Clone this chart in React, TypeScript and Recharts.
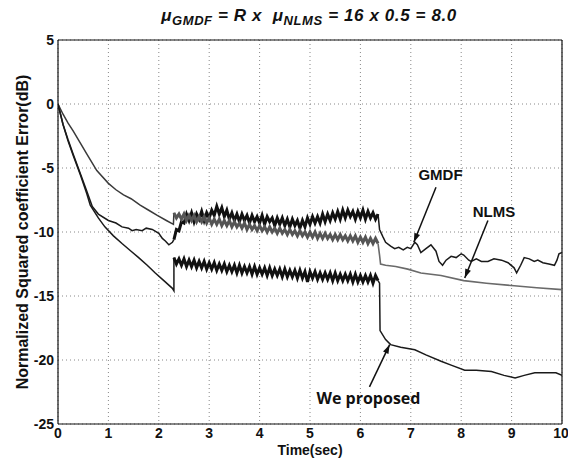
import React from "react";
import {CartesianGrid, Label, Line, LineChart, ReferenceDot, ReferenceLine, XAxis, YAxis} from "recharts";

// early convergence part, [time, dB]
const NLMS_START = [[0, 0], [0.1, -0.8], [0.2, -1.5], [0.3, -2.1], [0.45, -3.1], [0.57, -3.9], [0.77, -5.2], [1.0, -6.2], [1.15, -6.7], [1.3, -7.1], [1.45, -7.4], [1.63, -7.9], [1.8, -8.3], [1.97, -8.7], [2.15, -9.1], [2.29, -9.4]];
const GMDF_START = [[0, 0], [0.05, -0.8], [0.1, -1.6], [0.2, -2.8], [0.3, -3.9], [0.45, -5.5], [0.57, -6.8], [0.68, -8.0], [0.8, -8.6], [1.0, -9.1], [1.15, -9.3], [1.27, -9.6], [1.4, -9.7], [1.47, -9.9], [1.55, -9.8], [1.67, -9.9], [1.75, -9.7], [1.87, -9.8], [2.0, -10.1], [2.07, -10.5], [2.13, -10.7], [2.2, -11.0], [2.27, -10.8]];
const PROPOSED_START = [[0, 0], [0.05, -0.8], [0.1, -1.6], [0.2, -2.9], [0.3, -4.0], [0.45, -5.6], [0.57, -7.0], [0.64, -7.9], [0.8, -8.9], [0.93, -9.6], [1.1, -10.3], [1.27, -10.9], [1.45, -11.5], [1.6, -12.0], [1.77, -12.6], [1.93, -13.2], [2.1, -13.8], [2.27, -14.4], [2.3, -14.6]];

// noisy segment after the echo path change (2.3 s .. 6.35 s)
const BAND_TIME = [2.3, 2.35, 2.4, 2.45, 2.5, 2.55, 2.6, 2.65, 2.7, 2.75, 2.8, 2.85, 2.9, 2.95, 3, 3.05, 3.1, 3.15, 3.2, 3.25, 3.3, 3.35, 3.4, 3.45, 3.5, 3.55, 3.6, 3.65, 3.7, 3.75, 3.8, 3.85, 3.9, 3.95, 4, 4.05, 4.1, 4.15, 4.2, 4.25, 4.3, 4.35, 4.4, 4.45, 4.5, 4.55, 4.6, 4.65, 4.7, 4.75, 4.8, 4.85, 4.9, 4.95, 5, 5.05, 5.1, 5.15, 5.2, 5.25, 5.3, 5.35, 5.4, 5.45, 5.5, 5.55, 5.6, 5.65, 5.7, 5.75, 5.8, 5.85, 5.9, 5.95, 6, 6.05, 6.1, 6.15, 6.2, 6.25, 6.3, 6.35];
const GMDF_BAND = [-10.6, -9.8, -9.9, -9.2, -9.3, -8.6, -9.1, -8.5, -9.2, -8.6, -9.0, -8.4, -9.1, -8.5, -8.9, -8.3, -8.7, -8.0, -8.6, -8.1, -8.8, -8.3, -9.0, -8.5, -9.1, -8.6, -9.2, -8.6, -9.1, -8.7, -9.3, -8.7, -9.2, -8.8, -9.3, -8.7, -9.4, -8.8, -9.2, -8.9, -9.5, -8.9, -9.4, -8.9, -9.5, -9.0, -9.6, -9.0, -9.5, -9.1, -9.7, -9.1, -9.6, -8.9, -9.4, -8.8, -9.3, -8.8, -9.3, -8.6, -9.2, -8.6, -9.1, -8.5, -9.0, -8.4, -9.0, -8.3, -8.9, -8.3, -8.8, -8.4, -9.0, -8.4, -8.9, -8.3, -9.0, -8.4, -8.9, -8.5, -9.0, -8.6];
const NLMS_BAND = [-8.5, -8.9, -8.6, -9.0, -8.6, -9.1, -8.7, -9.1, -8.7, -9.2, -8.8, -9.2, -8.8, -9.3, -8.9, -9.4, -9.0, -9.4, -9.0, -9.5, -9.1, -9.5, -9.1, -9.6, -9.2, -9.6, -9.3, -9.7, -9.3, -9.8, -9.4, -9.8, -9.5, -9.9, -9.5, -9.9, -9.6, -10.0, -9.6, -10.0, -9.7, -10.1, -9.7, -10.1, -9.8, -10.2, -9.8, -10.2, -9.9, -10.3, -9.9, -10.3, -10.0, -10.4, -10.0, -10.4, -10.0, -10.5, -10.1, -10.5, -10.1, -10.5, -10.2, -10.6, -10.2, -10.6, -10.2, -10.6, -10.3, -10.7, -10.3, -10.7, -10.3, -10.8, -10.4, -10.8, -10.4, -10.9, -10.5, -10.9, -10.5, -10.9];
const PROPOSED_BAND = [-12.0, -12.5, -12.1, -12.6, -12.1, -12.7, -12.2, -12.7, -12.2, -12.8, -12.3, -12.8, -12.3, -12.9, -12.4, -12.9, -12.4, -13.0, -12.5, -13.0, -12.5, -13.1, -12.6, -13.1, -12.6, -13.2, -12.6, -13.2, -12.7, -13.2, -12.7, -13.3, -12.7, -13.3, -12.8, -13.3, -12.8, -13.4, -12.8, -13.4, -12.9, -13.4, -12.9, -13.5, -12.9, -13.5, -13.0, -13.5, -13.0, -13.6, -13.0, -13.6, -13.1, -13.9, -13.1, -13.6, -13.1, -13.7, -13.2, -13.7, -13.2, -13.7, -13.2, -13.8, -13.2, -13.8, -13.3, -13.8, -13.3, -13.8, -13.3, -13.9, -13.3, -13.9, -13.4, -13.9, -13.4, -13.9, -13.4, -14.0, -13.4, -13.8];

// after the double-talk ends
const GMDF_END = [[6.38, -9.8], [6.45, -10.4], [6.5, -10.8], [6.6, -11.1], [6.68, -11.3], [6.76, -11.2], [6.85, -11.4], [6.93, -11.2], [7.0, -11.3], [7.08, -10.8], [7.13, -11.0], [7.2, -11.6], [7.3, -11.3], [7.4, -11.0], [7.5, -11.5], [7.56, -12.3], [7.63, -12.6], [7.7, -12.2], [7.8, -11.9], [7.9, -12.0], [8.0, -11.7], [8.05, -11.8], [8.15, -12.2], [8.2, -12.3], [8.3, -12.1], [8.4, -12.3], [8.53, -12.3], [8.65, -12.1], [8.8, -12.2], [8.93, -12.4], [9.05, -12.8], [9.1, -13.2], [9.18, -12.6], [9.25, -12.0], [9.35, -12.1], [9.45, -12.3], [9.52, -12.2], [9.62, -12.4], [9.74, -12.5], [9.85, -12.6], [9.9, -12.2], [9.94, -11.7], [10, -11.6]];
const NLMS_END = [[6.38, -11.8], [6.4, -12.5], [6.5, -12.6], [6.7, -12.7], [6.94, -12.9], [7.2, -13.2], [7.6, -13.4], [8.05, -13.8], [8.5, -14.0], [9.05, -14.2], [9.5, -14.35], [10, -14.5]];
const PROPOSED_END = [[6.38, -14.0], [6.39, -17.7], [6.5, -18.4], [6.6, -18.8], [6.8, -19.0], [7.08, -19.2], [7.3, -19.6], [7.6, -20.1], [7.8, -20.4], [8.07, -20.8], [8.3, -20.8], [8.6, -20.9], [8.85, -21.2], [9.07, -21.4], [9.25, -21.2], [9.46, -21.0], [9.7, -21.0], [9.88, -21.0], [10, -21.2]];

const X_TICKS = [0, 1, 2, 3, 4, 5, 6, 7, 8, 9, 10];
const Y_TICKS = [-25, -20, -15, -10, -5, 0, 5];

const pts = (list: number[][]) => list.map(([t, v]) => ({t, v}));

// split every curve into: smooth start, noisy band, smooth end (sharing the joint points)
const build = (start: number[][], band: number[], end: number[][]) => {
    const b = band.map((v, i) => ({t: BAND_TIME[i], v}));
    return {
        start: [...pts(start), b[0]],
        band: b,
        end: [b[b.length - 1], ...pts(end)],
    };
};

const gmdf = build(GMDF_START, GMDF_BAND, GMDF_END);
const nlms = build(NLMS_START, NLMS_BAND, NLMS_END);
const proposed = build(PROPOSED_START, PROPOSED_BAND, PROPOSED_END);

const FONT = "'Liberation Sans', Arial, sans-serif";
const tickStyle = {fontFamily: FONT, fontWeight: 700, fontSize: 14, fill: "#111"};

const Arrow = (props: any) => {
    const {x1, y1, x2, y2} = props;
    const a = Math.atan2(y2 - y1, x2 - x1);
    const L = 9, W = 3;
    const bx = x2 - L * Math.cos(a), by = y2 - L * Math.sin(a);
    const px = -Math.sin(a) * W, py = Math.cos(a) * W;
    return (
        <g>
            <line x1={x1} y1={y1} x2={x2} y2={y2} stroke="#111" strokeWidth={1.5}/>
            <polygon points={`${x2},${y2} ${bx + px},${by + py} ${bx - px},${by - py}`} fill="#111"/>
        </g>
    );
};

const note = (text: string, size: number, family: string) => (p: any) => (
    <text x={p.cx} y={p.cy} textAnchor="middle" dominantBaseline="central"
          style={{fontFamily: family, fontWeight: 700, fontSize: size, fill: "#111"}}>{text}</text>
);

const YTitle = (props: any) => {
    const {viewBox} = props;
    const cx = 22;
    const cy = viewBox.y + viewBox.height / 2;
    return (
        <text x={cx} y={cy} transform={`rotate(-90 ${cx} ${cy})`} textAnchor="middle" dominantBaseline="central"
              style={{fontFamily: FONT, fontWeight: 700, fontSize: 16, fill: "#111"}}>
            Normalized Squared coefficient Error(dB)
        </text>
    );
};

const seg = (data: any[], color: string, width: number, key: string) => (
    <Line key={key} data={data} dataKey="v" type="linear" stroke={color} strokeWidth={width}
          dot={false} activeDot={false} isAnimationActive={false}/>
);

export default function App() {
    return (
        <div style={{position: "absolute", left: 0, top: 0, width: 568, height: 459, background: "#fff"}}>
            <div style={{position: "absolute", left: 0, top: 6, width: 618, textAlign: "center",
                fontFamily: FONT, fontWeight: 700, fontStyle: "italic", fontSize: 17, letterSpacing: 0.6, color: "#111"}}>
                μ<sub style={{fontSize: 13}}>GMDF</sub> = R x&nbsp; μ<sub style={{fontSize: 13}}>NLMS</sub> = 16 x 0.5 = 8.0
            </div>
            <LineChart width={568} height={459} margin={{top: 40, right: 6, bottom: 0, left: 0}}>
                <CartesianGrid stroke="#888" strokeDasharray="1 3"/>
                <XAxis dataKey="t" type="number" domain={[0, 10]} ticks={X_TICKS} allowDataOverflow
                       height={35} tickSize={0} tickMargin={4} tick={tickStyle} axisLine={{stroke: "#111", strokeWidth: 1.2}}>
                    <Label value="Time(sec)" position="insideBottom" offset={4}
                           style={{fontFamily: FONT, fontWeight: 700, fontSize: 14, fill: "#111"}}/>
                </XAxis>
                <YAxis type="number" domain={[-25, 5]} ticks={Y_TICKS} allowDataOverflow width={58}
                       tickSize={0} tickMargin={4} tick={tickStyle} axisLine={{stroke: "#111", strokeWidth: 1.2}}>
                    <Label content={YTitle}/>
                </YAxis>
                <ReferenceLine x={10} stroke="#111" strokeWidth={1.2}/>
                <ReferenceLine y={5} stroke="#111" strokeWidth={1.2}/>
                {seg(gmdf.start, "#1a1a1a", 1.5, "g1")}
                {seg(gmdf.band, "#111", 3, "g2")}
                {seg(gmdf.end, "#1a1a1a", 1.5, "g3")}
                {seg(nlms.start, "#3a3a3a", 1.5, "n1")}
                {seg(nlms.band, "#555", 3, "n2")}
                {seg(nlms.end, "#6a6a6a", 1.6, "n3")}
                {seg(proposed.start, "#1a1a1a", 1.5, "p1")}
                {seg(proposed.band, "#111", 3, "p2")}
                {seg(proposed.end, "#1a1a1a", 1.5, "p3")}
                <ReferenceLine segment={[{x: 7.5, y: -6.5}, {x: 7.06, y: -10.8}]} shape={Arrow}/>
                <ReferenceLine segment={[{x: 8.53, y: -9.1}, {x: 8.07, y: -13.6}]} shape={Arrow}/>
                <ReferenceLine segment={[{x: 6.18, y: -22.1}, {x: 6.58, y: -18.8}]} shape={Arrow}/>
                <ReferenceDot x={7.59} y={-5.5} r={0} shape={note("GMDF", 15, FONT)}/>
                <ReferenceDot x={8.65} y={-8.4} r={0} shape={note("NLMS", 15, FONT)}/>
                <ReferenceDot x={6.16} y={-23.0} r={0} shape={note("We proposed", 16, "'Open Sans', sans-serif")}/>
            </LineChart>
        </div>
    );
}
